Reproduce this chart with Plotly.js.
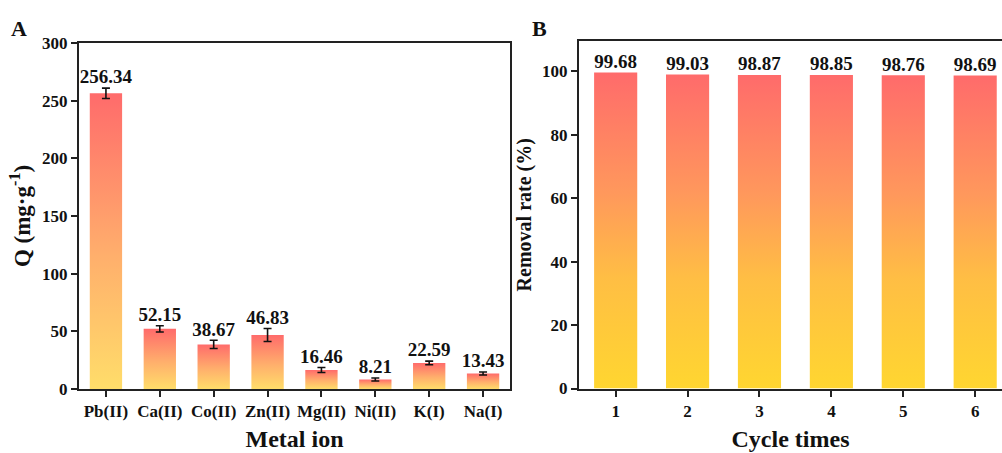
<!DOCTYPE html>
<html>
<head>
<meta charset="utf-8">
<script src="https://cdn.plot.ly/plotly-3.0.1.min.js"></script>
<style>html,body{margin:0;padding:0;background:#fff}#chart{width:1002px;height:453px}</style>
</head>
<body>
<div id="chart"></div>
<script>
// ---- data ----
const metals = ['Pb(II)', 'Ca(II)', 'Co(II)', 'Zn(II)', 'Mg(II)', 'Ni(II)', 'K(I)', 'Na(I)'];
const qValues = [256.34, 52.15, 38.67, 46.83, 16.46, 8.21, 22.59, 13.43];
const qErrors = [4.5, 2.7, 3.6, 5.6, 2.2, 1.3, 1.6, 1.3];
const cycles = [1, 2, 3, 4, 5, 6];
const removalRates = [99.68, 99.03, 98.87, 98.85, 98.76, 98.69];

// ---- styles ----
const FONT = 'Liberation Serif, Times New Roman, serif';
const AXIS_COLOR = '#222';
const BAR_W = 0.6;
const scaleA = [[0, '#FFDD6A'], [0.45, '#FFAF6C'], [1, '#FF6B6B']];
const scaleB = [[0, '#FFD630'], [0.35, '#FFBE44'], [0.62, '#FF985C'], [1, '#FF6B6B']];

function gradientBars(xs, ys, xa, ya, scale) {
  return ys.map((v, i) => {
    const c = xs[i];
    return {
      type: 'scatter', mode: 'lines', xaxis: xa, yaxis: ya,
      x: [c - BAR_W / 2, c - BAR_W / 2, c + BAR_W / 2, c + BAR_W / 2, c - BAR_W / 2],
      y: [0, v, v, 0, 0],
      fill: 'toself',
      fillgradient: {type: 'vertical', colorscale: scale},
      line: {width: 0, color: 'rgba(0,0,0,0)'},
      hoverinfo: 'skip', showlegend: false
    };
  });
}

const idxA = metals.map((_, i) => i);
const traces = [];
// invisible real bar traces (geometry reference)
traces.push({type: 'bar', x: idxA, y: qValues, width: BAR_W, marker: {color: 'rgba(0,0,0,0)'}, xaxis: 'x', yaxis: 'y', hoverinfo: 'skip', showlegend: false});
traces.push({type: 'bar', x: cycles, y: removalRates, width: BAR_W, marker: {color: 'rgba(0,0,0,0)'}, xaxis: 'x2', yaxis: 'y2', hoverinfo: 'skip', showlegend: false});
traces.push(...gradientBars(idxA, qValues, 'x', 'y', scaleA));
traces.push(...gradientBars(cycles, removalRates, 'x2', 'y2', scaleB));
// error bars
traces.push({
  type: 'scatter', mode: 'markers', x: idxA, y: qValues, xaxis: 'x', yaxis: 'y',
  marker: {size: 1, color: 'rgba(0,0,0,0)'},
  error_y: {type: 'data', array: qErrors, visible: true, color: '#111', thickness: 1.6, width: 4},
  hoverinfo: 'skip', showlegend: false
});
// value labels
traces.push({
  type: 'scatter', mode: 'text', xaxis: 'x', yaxis: 'y',
  x: idxA, y: qValues.map((v, i) => v + qErrors[i]),
  text: qValues.map(v => v.toFixed(2)), textposition: 'top center',
  textfont: {family: FONT, size: 19, color: '#111', weight: 'bold'},
  hoverinfo: 'skip', showlegend: false
});
traces.push({
  type: 'scatter', mode: 'text', xaxis: 'x2', yaxis: 'y2',
  x: cycles, y: removalRates,
  text: removalRates.map(v => v.toFixed(2)), textposition: 'top center',
  textfont: {family: FONT, size: 19, color: '#111', weight: 'bold'},
  hoverinfo: 'skip', showlegend: false
});

const tickFont = {family: FONT, size: 17, color: '#111', weight: 'bold'};
const titleFont = {family: FONT, size: 24, color: '#111', weight: 'bold'};
const baseAxis = {
  showline: true, linecolor: AXIS_COLOR, linewidth: 2, ticks: 'outside', ticklen: 6, tickwidth: 2,
  tickcolor: AXIS_COLOR, showgrid: false, zeroline: false, tickfont: tickFont, fixedrange: true
};

const layout = {
  width: 1002, height: 453,
  margin: {l: 0, r: 0, t: 0, b: 0},
  paper_bgcolor: '#fff', plot_bgcolor: '#fff',
  showlegend: false, barmode: 'overlay',
  xaxis: Object.assign({}, baseAxis, {
    domain: [79 / 1002, 510 / 1002], range: [-0.5, 7.5], mirror: true,
    tickvals: idxA, ticktext: metals,
    title: {text: 'Metal ion', font: titleFont, standoff: 10}
  }),
  yaxis: Object.assign({}, baseAxis, {
    domain: [1 - 389 / 453, 1 - 43 / 453], range: [0, 300], mirror: true, dtick: 50,
    title: {text: 'Q (mg·g<sup>-1</sup>)', font: Object.assign({}, titleFont, {size: 23}), standoff: 5}
  }),
  xaxis2: Object.assign({}, baseAxis, {
    anchor: 'y2', domain: [579 / 1002, 1], range: [0.49, 6.373], mirror: true,
    tickvals: cycles,
    title: {text: 'Cycle times', font: titleFont, standoff: 10}
  }),
  yaxis2: Object.assign({}, baseAxis, {
    anchor: 'x2', domain: [1 - 388.5 / 453, 1 - 41 / 453], range: [0, 109.6], dtick: 20,
    title: {text: 'Removal rate (%)', font: Object.assign({}, titleFont, {size: 20}), standoff: 5}
  }),
  annotations: [
    {text: 'A', xref: 'paper', yref: 'paper', x: 9 / 1002, y: 1 - 14 / 453, xanchor: 'left', yanchor: 'top', showarrow: false, font: {family: FONT, size: 22, color: '#111', weight: 'bold'}},
    {text: 'B', xref: 'paper', yref: 'paper', x: 530 / 1002, y: 1 - 14 / 453, xanchor: 'left', yanchor: 'top', showarrow: false, font: {family: FONT, size: 22, color: '#111', weight: 'bold'}}
  ]
};

Plotly.newPlot('chart', traces, layout, {displayModeBar: false, staticPlot: true});
</script>
</body>
</html>
